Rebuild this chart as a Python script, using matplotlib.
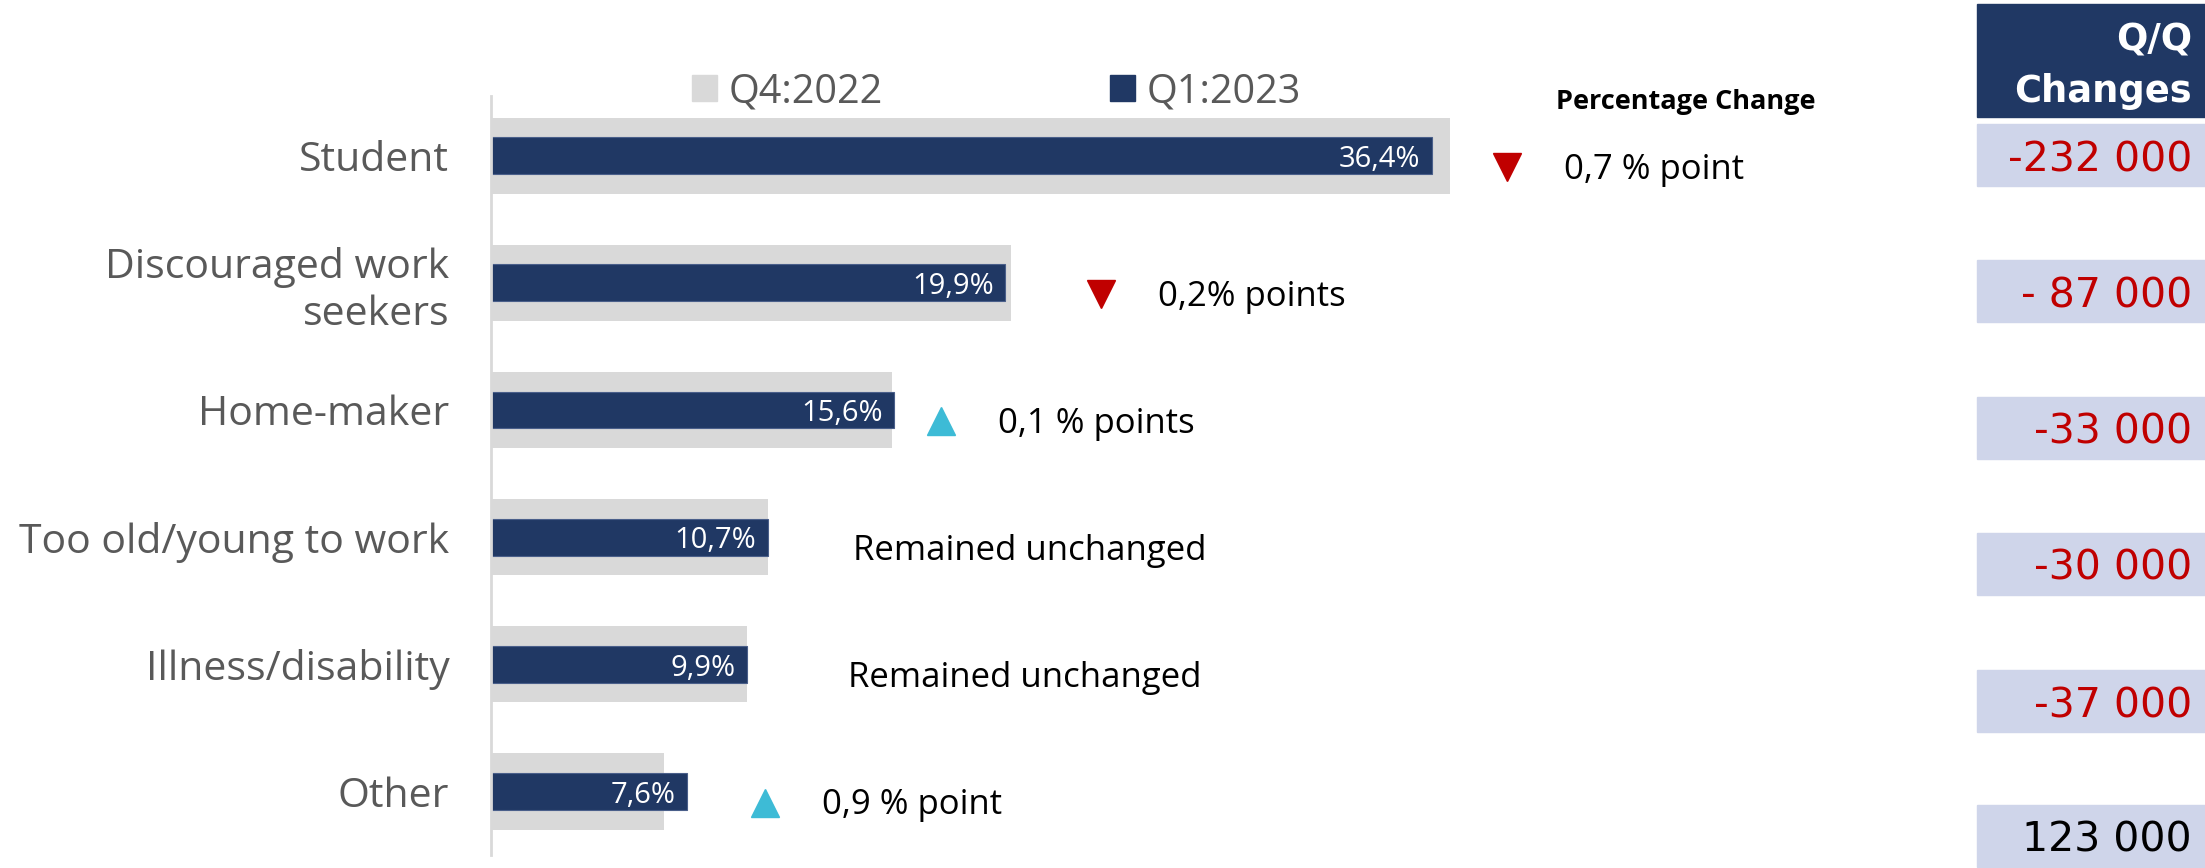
import matplotlib.pyplot as plt
from matplotlib.patches import Patch, Rectangle

categories = ['Student', 'Discouraged work\nseekers', 'Home-maker',
              'Too old/young to work', 'Illness/disability', 'Other']
q4_2022 = [37.1, 20.1, 15.5, 10.7, 9.9, 6.7]
q1_2023 = [36.4, 19.9, 15.6, 10.7, 9.9, 7.6]
q1_labels = ['36,4%', '19,9%', '15,6%', '10,7%', '9,9%', '7,6%']
change_dir = ['down', 'down', 'up', None, None, 'up']
change_text = ['0,7 % point', '0,2% points', '0,1 % points',
               'Remained unchanged', 'Remained unchanged', '0,9 % point']
qq_changes = ['-232 000', '- 87 000', '-33 000', '-30 000', '-37 000', '123 000']

NAVY = '#203864'
GREY = '#D9D9D9'
RED = '#C00000'
CYAN = '#3DBBD6'
LAV = '#CFD5EA'
TXT = '#595959'

W, H = 2205, 868
fig = plt.figure(figsize=(W / 100, H / 100), dpi=100)
ax = fig.add_axes([491 / W, 13 / H, (1977 - 491) / W, (855 - 96) / H])

y = list(range(len(categories)))
ax.barh(y, q4_2022, height=0.6, color=GREY)
ax.barh(y, q1_2023, height=0.29, color=NAVY, edgecolor='#4a5f8a', linewidth=0.8)

for i, lab in enumerate(q1_labels):
    ax.text(q1_2023[i] - 0.45, i + 0.03, lab, color='white', fontsize=21,
            ha='right', va='center', family='Open Sans')

# change markers and notes (x positions are layout only)
marker_x = [39.3, 23.6, 17.4, None, None, 10.6]
note_x = [41.5, 25.8, 19.6, 14.0, 13.8, 12.8]
for i in y:
    yy = i + 0.11
    if change_dir[i] == 'down':
        ax.plot(marker_x[i], yy - 0.02, marker='v', color=RED, markersize=20, clip_on=False)
    elif change_dir[i] == 'up':
        ax.plot(marker_x[i], yy - 0.02, marker='^', color=CYAN, markersize=20, clip_on=False)
    ax.text(note_x[i], yy, change_text[i], fontsize=25, color='black',
            ha='left', va='center', family='Open Sans')

ax.text(46.2, -0.42, 'Percentage Change', fontsize=19.5, fontweight='bold',
        ha='center', va='center', family='Open Sans')

ax.set_xlim(0, (1977 - 491) / 25.85)
ax.set_ylim(5.5, -0.47)
ax.set_yticks(y)
ax.set_yticklabels(categories, fontsize=29.5, color=TXT, family='Open Sans',
                   linespacing=1.2)
ax.tick_params(axis='y', length=0, pad=30)
ax.set_xticks([])
for s in ['top', 'right', 'bottom']:
    ax.spines[s].set_visible(False)
ax.spines['left'].set_color(GREY)
ax.spines['left'].set_linewidth(2)

handles = [Patch(color=GREY, label='Q4:2022'), Patch(color=NAVY, label='Q1:2023')]
leg = fig.legend(handles=handles, loc='center left', bbox_to_anchor=(692 / W, 1 - 92 / H),
                 ncol=2, frameon=False, handlelength=0.62, handleheight=0.62,
                 handletextpad=0.3, columnspacing=5.75, borderpad=0, borderaxespad=0,
                 prop={'family': 'Open Sans', 'size': 28.5})
for t in leg.get_texts():
    t.set_color(TXT)

# Q/Q changes table on the right
fig.patches.append(Rectangle((1977 / W, 1 - 117 / H), (W - 1977) / W, 113 / H,
                             transform=fig.transFigure, color=NAVY))
fig.text(2192 / W, 1 - 40 / H, 'Q/Q', color='white', fontsize=26.5,
         fontweight='bold', ha='right', va='center', family='DejaVu Sans')
fig.text(2192 / W, 1 - 92 / H, 'Changes', color='white', fontsize=26.5,
         fontweight='bold', ha='right', va='center', family='DejaVu Sans')
row_c = [155, 291, 428, 564, 701, 836]
for i, val in enumerate(qq_changes):
    fig.patches.append(Rectangle((1977 / W, 1 - (row_c[i] + 31) / H), (W - 1977) / W, 62 / H,
                                 transform=fig.transFigure, color=LAV))
    col = RED if val.strip().startswith('-') else 'black'
    fig.text(2192 / W, 1 - (row_c[i] + 5) / H, val, color=col, fontsize=29.5,
             ha='right', va='center', family='DejaVu Sans')

fig.savefig('out.png', dpi=100)
